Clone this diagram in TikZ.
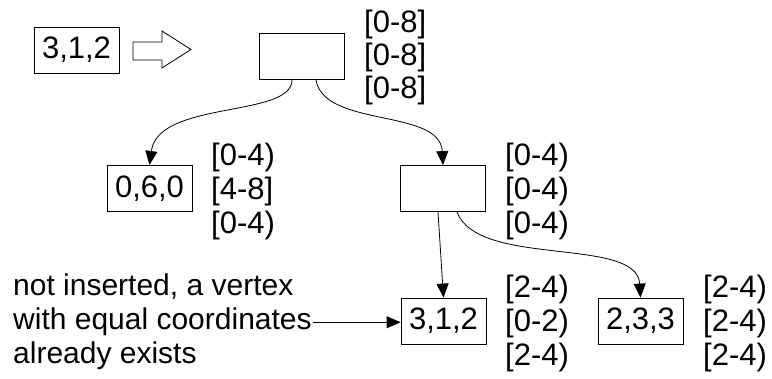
\documentclass[tikz,border=0pt]{standalone}
\usepackage{fontspec}
\setmainfont{Liberation Sans}
\usetikzlibrary{arrows.meta}
\tikzset{
  box/.style={draw, line width=0.8pt, minimum width=85pt, minimum height=46pt, inner sep=0pt, font=\fontsize{31}{34}\selectfont},
  lab/.style={anchor=base west, inner sep=0pt, font=\fontsize{31}{34}\selectfont},
  note/.style={anchor=base west, inner sep=0pt, font=\fontsize{30}{34}\selectfont},
  conn/.style={line width=0.8pt, -{Triangle[length=14pt,width=12pt]}},
}
\begin{document}
\begin{tikzpicture}[x=1pt,y=-1pt]
\useasboundingbox (0,0) rectangle (772,379);
% boxes
\node[box] (src) at (76.5,50) {3,1,2};
\node[box] (root) at (301.5,56.5) {};
\node[box] (l) at (149.5,188.5) {0,6,0};
\node[box] (r) at (443,188.5) {};
\node[box] (rl) at (443.5,321) {3,1,2};
\node[box] (rr) at (640.5,321) {2,3,3};
% block arrow
\draw[line width=0.8pt] (133,42) -- (162,42) -- (162,31) -- (191,49.5) -- (162,68) -- (162,60) -- (133,60) -- cycle;
% labels
\node[lab] (ra1) at (364,33) {[0-8]};
\node[lab] (ra2) at (364,66) {[0-8]};
\node[lab] (ra3) at (364,99) {[0-8]};
\node[lab] (la1) at (211,166) {[0-4)};
\node[lab] (la2) at (211,200) {[4-8]};
\node[lab] (la3) at (211,234) {[0-4)};
\node[lab] (rb1) at (505,166) {[0-4)};
\node[lab] (rb2) at (505,200) {[0-4)};
\node[lab] (rb3) at (505,234) {[0-4)};
\node[lab] (rla1) at (505,298) {[2-4)};
\node[lab] (rla2) at (505,332) {[0-2)};
\node[lab] (rla3) at (505,366) {[2-4)};
\node[lab] (rra1) at (703,298) {[2-4)};
\node[lab] (rra2) at (703,332) {[2-4)};
\node[lab] (rra3) at (703,366) {[2-4)};
% note text
\node[note] (t1) at (13,296) {not inserted, a vertex};
\node[note] (t2) at (13,330) {with equal coordinates};
\node[note] (t3) at (13,364) {already exists};
% connectors
\coordinate (rootA) at (292,80);
\coordinate (rootB) at (316,80);
\coordinate (rA) at (438,212);
\coordinate (rB) at (457,212);
\draw[conn] (rootA) .. controls (292,118) and (158,100) .. (l.north |- 0,165);
\draw[conn] (rootB) .. controls (324,128) and (440,108) .. (r.north);
\draw[conn] (rA) -- (rl.north);
\draw[conn] (rB) .. controls (478,268) and (637,236) .. (rr.north);
\draw[conn] (t2.east) ++(1,0) -- (t2.east -| rl.west);
\end{tikzpicture}
\end{document}
